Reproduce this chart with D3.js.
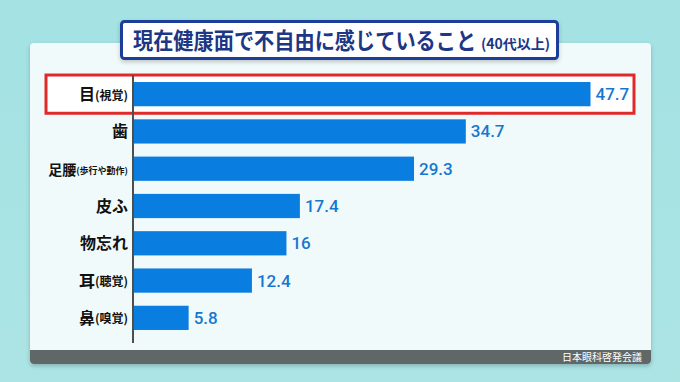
<!DOCTYPE html>
<html><head><meta charset="utf-8">
<script src="https://cdn.jsdelivr.net/npm/d3@7/dist/d3.min.js"></script>
<style>html,body{margin:0;padding:0;background:#a9e3e3;}svg{display:block}</style>
</head><body>
<script>
const categories = ["目", "歯", "足腰", "皮ふ", "物忘れ", "耳", "鼻"];
const subLabels = ["(視覚)", "", "(歩行や動作)", "", "", "(聴覚)", "(嗅覚)"];
const values = [47.7, 34.7, 29.3, 17.4, 16, 12.4, 5.8];
const valueLabels = ["47.7", "34.7", "29.3", "17.4", "16", "12.4", "5.8"];
const titleMain = "現在健康面で不自由に感じていること";
const titleSub = "(40代以上)";
const source = "日本眼科啓発会議";

const W = 680, H = 382;
const svg = d3.select("body").append("svg").attr("width", W).attr("height", H);
const defs = svg.append("defs");
const f = defs.append("filter").attr("id","sh").attr("x","-10%").attr("y","-10%").attr("width","120%").attr("height","130%");
f.append("feDropShadow").attr("dx",0).attr("dy",2).attr("stdDeviation",2).attr("flood-color","#000").attr("flood-opacity",0.22);
const g = defs.append("linearGradient").attr("id","bg").attr("x1",0).attr("y1",0).attr("x2",0).attr("y2",1);
g.append("stop").attr("offset","0").attr("stop-color","#a4e2e3");
g.append("stop").attr("offset","1").attr("stop-color","#ace4e4");
svg.append("rect").attr("width",W).attr("height",H).attr("fill","url(#bg)");

const font = "'Noto Sans CJK JP', 'Noto Sans', sans-serif";
// panel
const px0 = 30, px1 = 651, py0 = 43, py1 = 364, r = 4;
svg.append("path").attr("filter","url(#sh)").attr("fill","#f1fafa")
  .attr("d", `M${px0},${py0+r}Q${px0},${py0} ${px0+r},${py0}H${px1-r}Q${px1},${py0} ${px1},${py0+r}V${py1-r}Q${px1},${py1} ${px1-r},${py1}H${px0+r}Q${px0},${py1} ${px0},${py1-r}Z`);
// footer
svg.append("path").attr("fill","#5f6866")
  .attr("d", `M${px0},350H${px1}V${py1-r}Q${px1},${py1} ${px1-r},${py1}H${px0+r}Q${px0},${py1} ${px0},${py1-r}Z`);
svg.append("text").attr("x",642).attr("y",361).attr("text-anchor","end")
  .attr("font-family",font).attr("font-size",10).attr("fill","#fff").text(source);

// scales
const x = d3.scaleLinear().domain([0, 47.7]).range([133, 590.5]);
const y = d3.scaleBand().domain(categories).range([75.5, 336.5]).paddingInner(0.35).paddingOuter(0.175);

// highlight box
svg.append("rect").attr("x",46).attr("y",y(categories[0]) - 7).attr("width",588).attr("height",y.bandwidth()+14)
  .attr("fill","#fff").attr("stroke","#e02a2a").attr("stroke-width",3);

// bars
svg.selectAll("rect.bar").data(values).join("rect").attr("class","bar")
  .attr("x", x(0)).attr("y",(d,i)=>y(categories[i])).attr("width",d=>x(d)-x(0)).attr("height",y.bandwidth())
  .attr("fill","#0a7de1");

// value labels
svg.selectAll("text.val").data(values).join("text").attr("class","val")
  .attr("x",d=>x(d)+5).attr("y",(d,i)=>y(categories[i])+y.bandwidth()/2+6)
  .attr("font-family","Roboto, 'Noto Sans', sans-serif").attr("font-size",17).attr("font-weight",500)
  .attr("fill","#1677cf").text((d,i)=>valueLabels[i]);

// category labels
const isLong = i => subLabels[i].length > 5;
const lab = svg.selectAll("text.cat").data(categories).join("text").attr("class","cat")
  .attr("x",128).attr("y",(d,i)=>y(d)+y.bandwidth()/2+6).attr("text-anchor","end")
  .attr("font-family",font).attr("font-weight",700).attr("fill","#111");
lab.append("tspan").attr("font-size",(d,i)=>isLong(i) ? 14 : 16).text(d=>d);
lab.append("tspan").attr("font-size",(d,i)=>isLong(i) ? 9 : 12).attr("dy",-0.5).text((d,i)=>subLabels[i]);

// axis line
svg.append("line").attr("x1",x(0)).attr("x2",x(0)).attr("y1",75).attr("y2",343)
  .attr("stroke","#4a4f50").attr("stroke-width",2);

// title box
svg.append("rect").attr("x",121.5).attr("y",21.5).attr("width",436).attr("height",37).attr("rx",3)
  .attr("fill","#fff").attr("stroke","#1f3c98").attr("stroke-width",3).attr("filter","url(#sh)");
svg.append("g").attr("transform","translate(133,48.5) scale(1,1.1)")
  .append("text").attr("x",0).attr("y",0)
  .attr("font-family",font).attr("font-weight",700).attr("fill","#1c3785")
  .attr("font-size",20.2).text(titleMain);
svg.append("text").attr("x",481).attr("y",48.5)
  .attr("font-family",font).attr("font-weight",700).attr("fill","#1c3785")
  .attr("font-size",14).text(titleSub);
</script>
</body></html>
